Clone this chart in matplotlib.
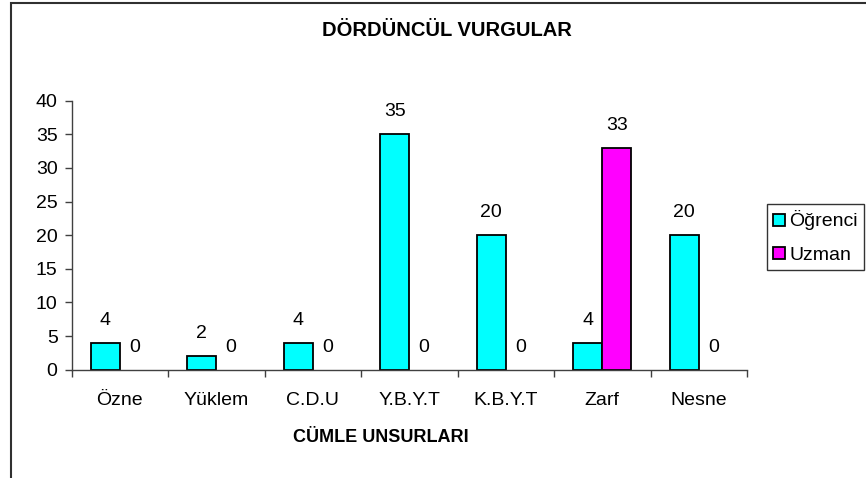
import numpy as np
import matplotlib
matplotlib.use("Agg")
import matplotlib.pyplot as plt
from matplotlib.patches import Rectangle, Patch

plt.rcParams['font.family'] = ['Liberation Sans', 'DejaVu Sans']

# Veriler
kategoriler = ['Özne', 'Yüklem', 'C.D.U', 'Y.B.Y.T', 'K.B.Y.T', 'Zarf', 'Nesne']
ogrenci = [4, 2, 4, 35, 20, 4, 20]
uzman = [0, 0, 0, 0, 0, 33, 0]
seri_adlari = ['Öğrenci', 'Uzman']
renkler = ['#00FFFF', '#FF00FF']
y_ticks = [0, 5, 10, 15, 20, 25, 30, 35, 40]

W, H = 866, 478
fig = plt.figure(figsize=(W / 100, H / 100), dpi=100)

# çizim alanı (piksel ölçüleri referanstan)
ax = fig.add_axes([71.5 / W, 1 - 369.7 / H, (747 - 71.5) / W, (369.7 - 100.7) / H])

x = np.arange(len(kategoriler))
w = 0.3
b1 = ax.bar(x - w / 2, ogrenci, w, color=renkler[0], edgecolor='black', linewidth=1.3)
b2 = ax.bar(x + w / 2, uzman, w, color=renkler[1], edgecolor='black', linewidth=1.3)

# değer etiketleri
for bars in (b1, b2):
    ax.bar_label(bars, padding=10, fontsize=14)
    # sıfır yükseklikli çubuklar çizilmez
    for p in bars:
        if p.get_height() == 0:
            p.set_visible(False)

ax.set_xlim(-0.5, len(kategoriler) - 0.5)
ax.set_ylim(0, 40)
ax.set_yticks(y_ticks)
ax.tick_params(axis='y', labelsize=14, length=5, width=1, color='#404040', pad=5)

ax.set_xticks(x, labels=kategoriler)
ax.tick_params(axis='x', which='major', length=0, labelsize=14, pad=16)
ax.set_xticks(np.arange(len(kategoriler) + 1) - 0.5, minor=True)
ax.tick_params(axis='x', which='minor', length=5, width=1, color='#404040')

ax.spines[['top', 'right']].set_visible(False)
for s in ('left', 'bottom'):
    ax.spines[s].set_color('#404040')
    ax.spines[s].set_linewidth(1)

fig.text(447 / W, 1 - 31 / H, 'DÖRDÜNCÜL VURGULAR', ha='center', va='center',
         fontsize=14.5, fontweight='bold')
fig.text(381 / W, 1 - 437 / H, 'CÜMLE UNSURLARI', ha='center', va='center',
         fontsize=13, fontweight='bold')

handles = [Patch(facecolor=c, edgecolor='black', linewidth=1.3) for c in renkler]
leg = fig.legend(handles, seri_adlari, loc='upper left', bbox_to_anchor=(767 / W, 1 - 204 / H),
                 fontsize=14, frameon=True, fancybox=False, edgecolor='black',
                 handlelength=0.57, handleheight=0.57, handletextpad=0.25, borderpad=0.33,
                 labelspacing=0.85, borderaxespad=0)
leg.get_frame().set_linewidth(1)

# grafik alanı çerçevesi
fig.patches.append(Rectangle((11 / W, -0.1), 1.2, 1 - 3 / H + 0.1, transform=fig.transFigure,
                             fill=False, edgecolor='#303030', linewidth=1.5))

fig.savefig('out.png', dpi=100)
